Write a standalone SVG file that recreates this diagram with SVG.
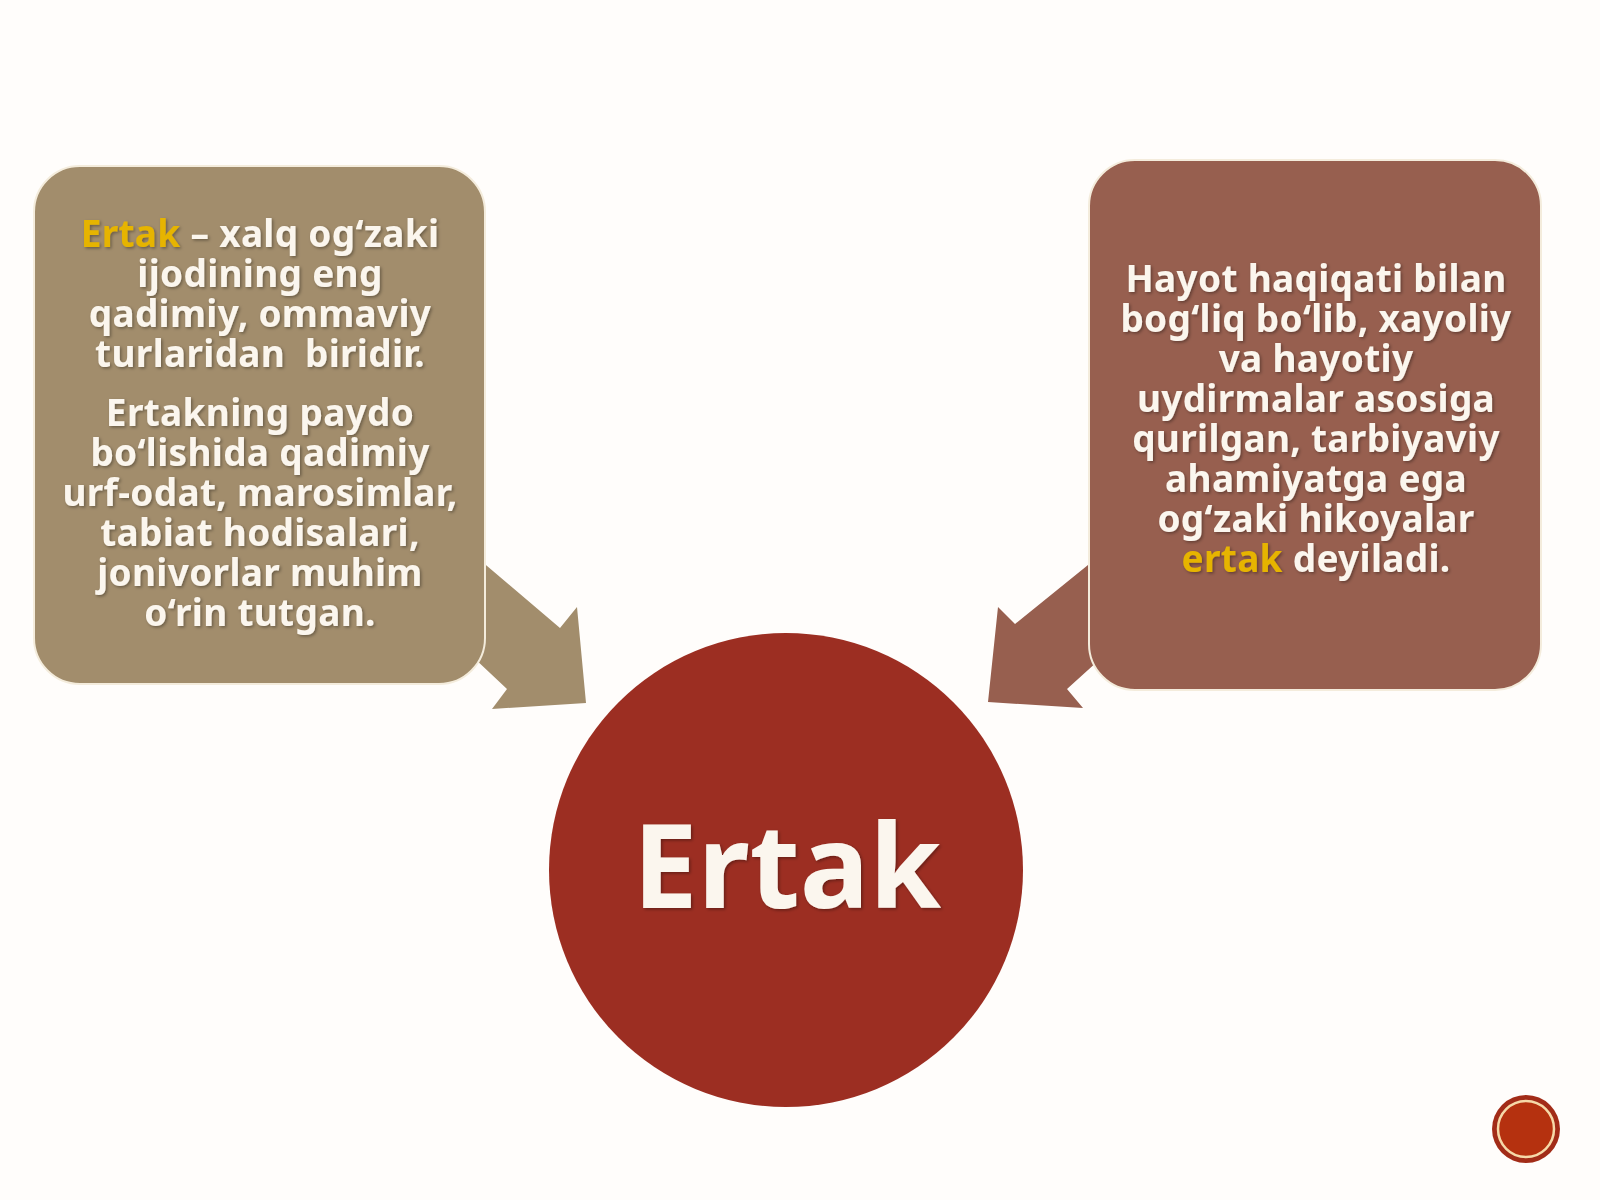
<svg xmlns="http://www.w3.org/2000/svg" width="1600" height="1200" viewBox="0 0 1600 1200">
  <defs>
    <filter id="sh" x="-10%" y="-10%" width="120%" height="120%">
      <feDropShadow dx="1.5" dy="1.5" stdDeviation="1.5" flood-color="#000" flood-opacity="0.35"/>
    </filter>
    <style>
      .t { font-family: "Noto Sans", "Open Sans", "DejaVu Sans", sans-serif; font-weight: bold; fill: #fbf6ee; text-anchor: middle; }
      .box { font-size: 37px; letter-spacing: 0.3px; }
      .y { fill: #e6b400; }
      .big { font-size: 116px; }
    </style>
  </defs>
  <rect width="1600" height="1200" fill="#fffdfb"/>

  <g id="connectors">
    <polygon id="arrow-left" points="440,526 560,628 577,607 586,703 492,709 507,689 440,626" fill="#a28d6c"/>
    <polygon id="arrow-right" points="1130,531 1015,624 998,607 988,702 1083,708 1067,689 1130,632" fill="#975f4f"/>
  </g>

  <g id="node-left">
    <rect x="34" y="166" width="451" height="518" rx="46" ry="46" fill="#a28d6c" stroke="#f4ecdc" stroke-width="2"/>
    <g class="t box" filter="url(#sh)">
      <text x="260" y="247"><tspan class="y">Ertak</tspan> – xalq og‘zaki</text>
      <text x="260" y="287">ijodining eng</text>
      <text x="260" y="327">qadimiy, ommaviy</text>
      <text x="260" y="367" style="white-space:pre">turlaridan  biridir.</text>
      <text x="260" y="426">Ertakning paydo</text>
      <text x="260" y="466">bo‘lishida qadimiy</text>
      <text x="260" y="506">urf-odat, marosimlar,</text>
      <text x="260" y="546">tabiat hodisalari,</text>
      <text x="260" y="586">jonivorlar muhim</text>
      <text x="260" y="626">o‘rin tutgan.</text>
    </g>
  </g>

  <g id="node-right">
    <rect x="1089" y="160" width="452" height="530" rx="46" ry="46" fill="#975f4f" stroke="#f4ecdc" stroke-width="2"/>
    <g class="t box" filter="url(#sh)">
      <text x="1316" y="292">Hayot haqiqati bilan</text>
      <text x="1316" y="332">bog‘liq bo‘lib, xayoliy</text>
      <text x="1316" y="372">va hayotiy</text>
      <text x="1316" y="412">uydirmalar asosiga</text>
      <text x="1316" y="452">qurilgan, tarbiyaviy</text>
      <text x="1316" y="492">ahamiyatga ega</text>
      <text x="1316" y="532">og‘zaki hikoyalar</text>
      <text x="1316" y="572"><tspan class="y">ertak</tspan> deyiladi.</text>
    </g>
  </g>

  <g id="node-center">
    <circle cx="786" cy="870" r="237" fill="#9c2e22"/>
    <text class="t big" x="787" y="908" filter="url(#sh)">Ertak</text>
  </g>

  <g id="page-button">
    <circle cx="1526" cy="1129" r="34" fill="#a22c18"/>
    <circle cx="1526" cy="1129" r="28" fill="#b5310f" stroke="#f6d9a8" stroke-width="2.5"/>
  </g>
</svg>
